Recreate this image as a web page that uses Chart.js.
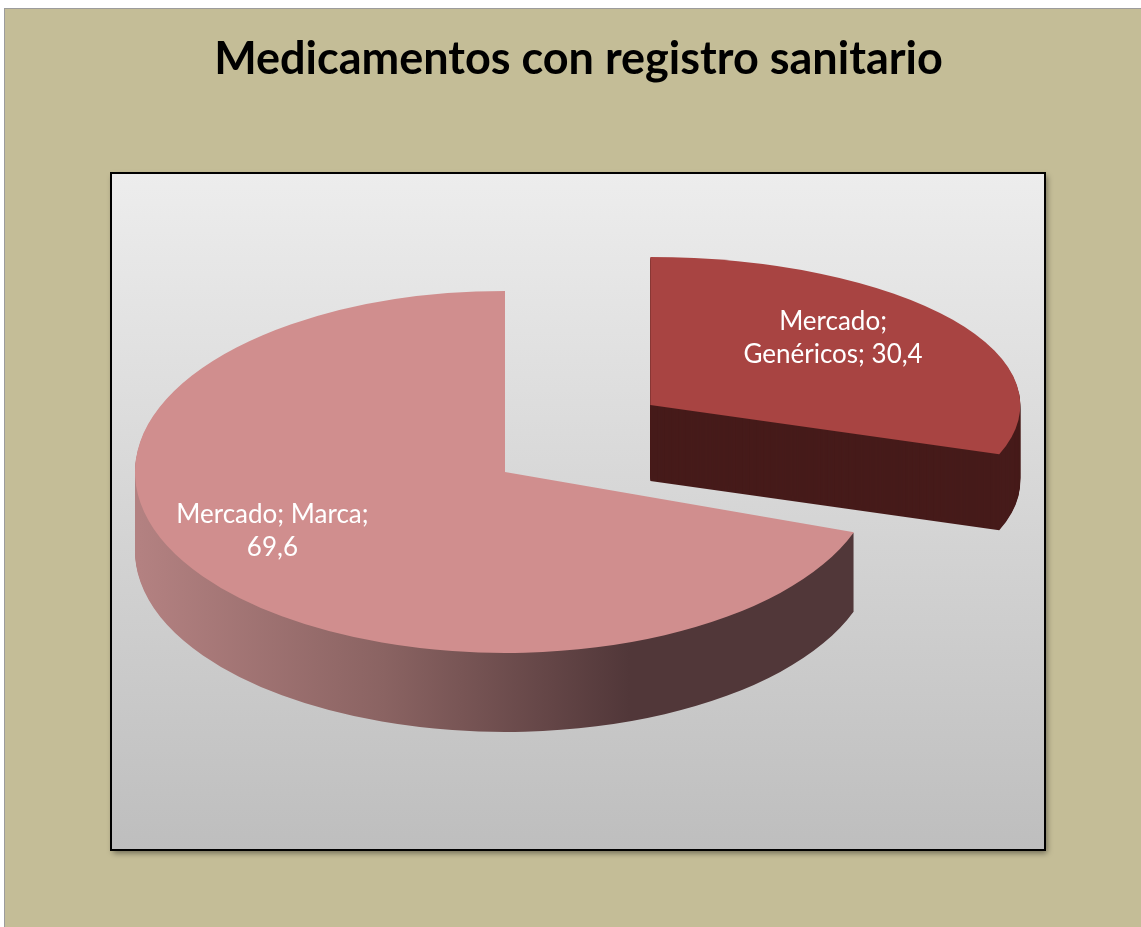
<!DOCTYPE html>
<html>
<head>
<meta charset="utf-8">
<script src="https://cdn.jsdelivr.net/npm/chart.js@4.4.1/dist/chart.umd.min.js"></script>
<style>
  body { margin: 0; background: #fff; }
  canvas { display: block; }
</style>
</head>
<body>
<canvas id="pie-graph" width="1141" height="927"></canvas>
<script>
const chartTitle = "Medicamentos con registro sanitario";
const seriesName = "Mercado";
const categories = ["Genéricos", "Marca"];
const values = [30.4, 69.6];
const sliceColors = ["#a84442", "#d08e8e"];

// 3d look: squash per slice (far slice flatter), thickness, pie centre on screen
const tilt = [0.40, 0.489];
const depth = [76, 79];
const SX = 505;
const SY = 472;
const explode = [178, 0];
const explodeTilt = 0.651;
const labelPos = [0.605, 0.77];
const labelNudge = [-15, -21];

function labelText(i) {
  return seriesName + "; " + categories[i] + "; " + values[i].toFixed(1).replace(".", ",");
}

function wrap(ctx, text, maxWidth) {
  let words = text.split(" ");
  let lines = [];
  let line = "";
  for (let w of words) {
    let test = line ? line + " " + w : w;
    if (line && ctx.measureText(test).width > maxWidth) {
      lines.push(line);
      line = w;
    } else {
      line = test;
    }
  }
  lines.push(line);
  return lines;
}

const background = {
  id: "background",
  beforeDraw(chart) {
    let ctx = chart.ctx;
    ctx.save();
    ctx.fillStyle = "#ffffff";
    ctx.fillRect(0, 0, chart.width, chart.height);
    ctx.fillStyle = "#9c9c9c";
    ctx.fillRect(4, 8, chart.width - 4, 1);
    ctx.fillRect(4, 8, 1, chart.height - 8);
    ctx.fillStyle = "#c4bd97";
    ctx.fillRect(5, 9, chart.width - 5, chart.height - 9);

    // plot area box
    let g = ctx.createLinearGradient(0, 173, 0, 850);
    g.addColorStop(0, "#ededed");
    g.addColorStop(1, "#bebebe");
    ctx.shadowColor = "rgba(0,0,0,0.45)";
    ctx.shadowBlur = 6;
    ctx.shadowOffsetX = 2;
    ctx.shadowOffsetY = 3;
    ctx.fillStyle = g;
    ctx.fillRect(111, 173, 934, 677);
    ctx.shadowColor = "transparent";
    ctx.strokeStyle = "#000";
    ctx.lineWidth = 2;
    ctx.strokeRect(111, 173, 934, 677);
    ctx.restore();
  }
};

// screen position of the slice tip
function tipOf(arc, i) {
  let mid = (arc.startAngle + arc.endAngle) / 2;
  return {
    x: SX + Math.cos(mid) * explode[i],
    y: SY + Math.sin(mid) * explode[i] * explodeTilt,
    mid: mid
  };
}

function drawPiece(ctx, arc, i, fill, d) {
  let tip = tipOf(arc, i);
  ctx.save();
  ctx.translate(tip.x, tip.y + d);
  ctx.scale(1, tilt[i]);
  ctx.translate(-arc.x, -arc.y);
  let saved = arc.options;
  let color = fill;
  if (typeof fill === "function") color = fill(ctx, arc, tip);
  arc.options = Object.assign({}, saved, { backgroundColor: color, borderWidth: 0 });
  arc.draw(ctx);
  arc.options = saved;
  ctx.restore();
}

function sideColor(i) {
  if (i === 0) return "#461b1a";
  return function (ctx, arc, tip) {
    let dx = tip.x - arc.x;
    let g = ctx.createLinearGradient(140 - dx, 0, 630 - dx, 0);
    g.addColorStop(0, "#b38181");
    g.addColorStop(0.5, "#8a6362");
    g.addColorStop(1, "#513739");
    return g;
  };
}

const pie3d = {
  id: "pie3d",
  beforeDatasetsDraw(chart) {
    let ctx = chart.ctx;
    let arcs = chart.getDatasetMeta(0).data;
    // back slice first, then the big one in front
    for (let i = 0; i < arcs.length; i++) {
      let side = sideColor(i);
      for (let d = depth[i]; d >= 1; d--) {
        drawPiece(ctx, arcs[i], i, side, d);
      }
      drawPiece(ctx, arcs[i], i, sliceColors[i], 0);
    }
    return false;
  },
  afterDraw(chart) {
    let ctx = chart.ctx;
    let arcs = chart.getDatasetMeta(0).data;
    ctx.save();
    ctx.font = "26px Lato";
    ctx.fillStyle = "#ffffff";
    ctx.textAlign = "center";
    ctx.textBaseline = "middle";
    for (let i = 0; i < arcs.length; i++) {
      let a = arcs[i];
      let tip = tipOf(a, i);
      let r = labelPos[i] * a.outerRadius;
      let px = tip.x + Math.cos(tip.mid) * r;
      let py = tip.y + Math.sin(tip.mid) * r * tilt[i] + labelNudge[i];
      let lines = wrap(ctx, labelText(i), 200);
      for (let j = 0; j < lines.length; j++) {
        ctx.fillText(lines[j], px, py + (j - (lines.length - 1) / 2) * 33);
      }
    }
    ctx.restore();
  }
};

let canvas = document.getElementById("pie-graph").getContext("2d");
const chart = new Chart(canvas, {
  type: "pie",
  data: {
    labels: categories,
    datasets: [{
      label: seriesName,
      data: values,
      backgroundColor: sliceColors,
      borderWidth: 0,
      radius: 370
    }]
  },
  options: {
    responsive: false,
    animation: false,
    events: [],
    layout: { padding: { left: 16 } },
    plugins: {
      legend: { display: false },
      tooltip: { enabled: false },
      title: {
        display: true,
        text: chartTitle,
        color: "#000",
        font: { family: "Lato", size: 45, weight: "bold" },
        padding: { top: 32, bottom: 10 }
      }
    }
  },
  plugins: [background, pie3d]
});
</script>
</body>
</html>
